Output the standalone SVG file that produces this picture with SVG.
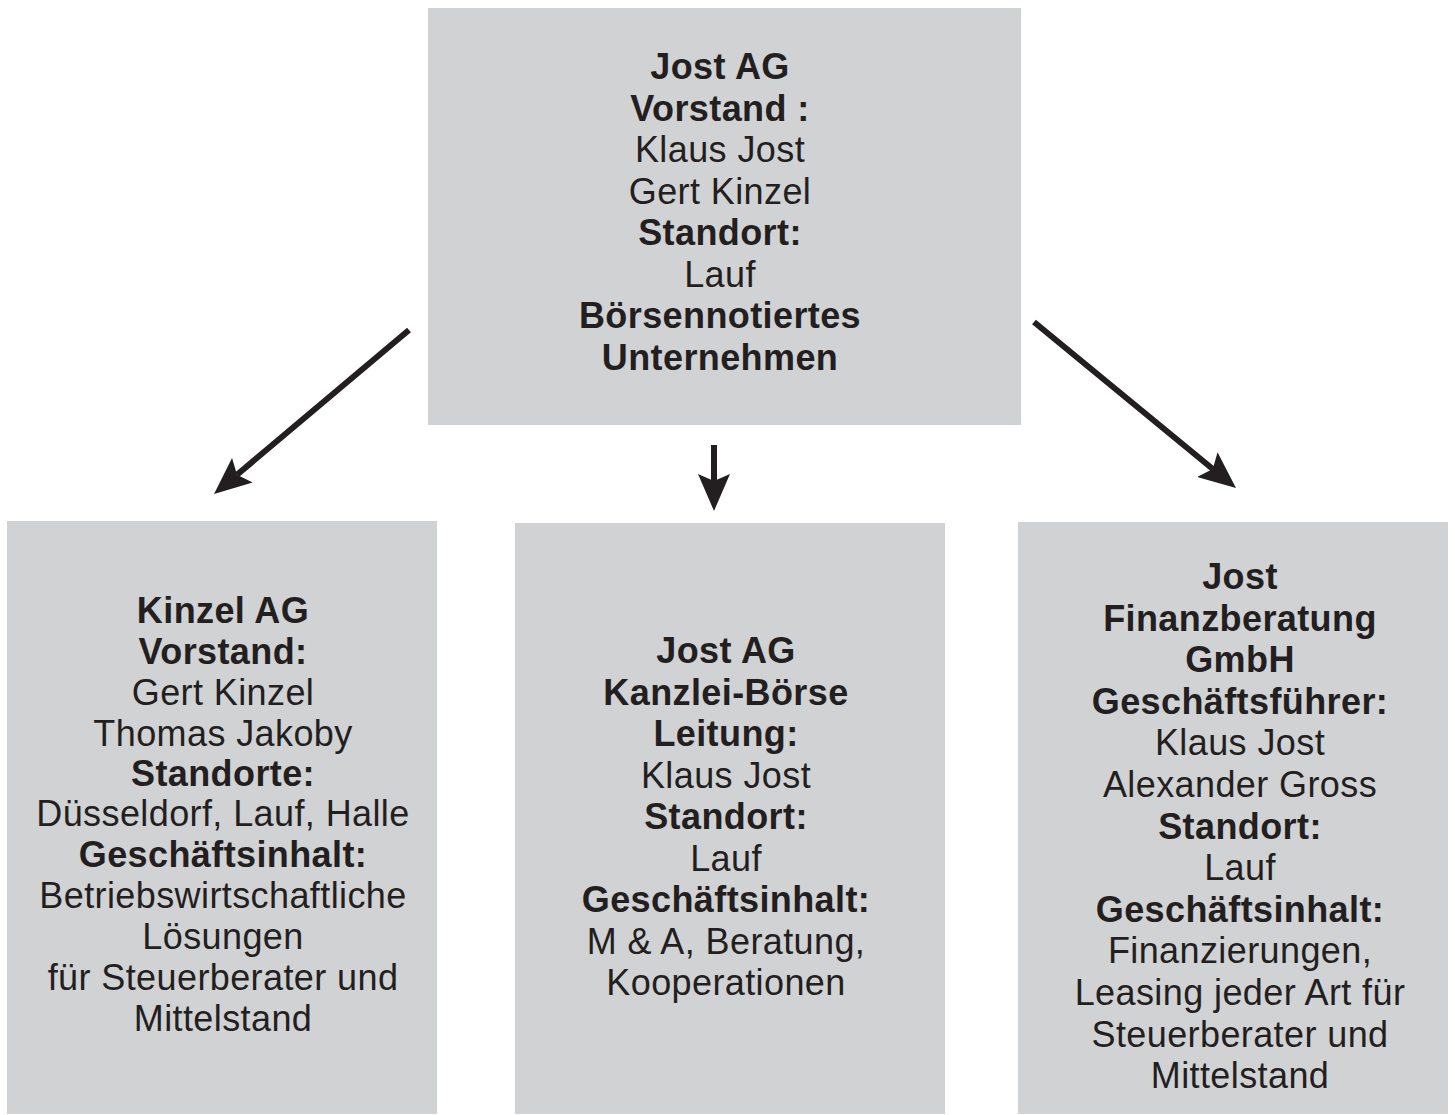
<svg xmlns="http://www.w3.org/2000/svg" width="1455" height="1115" viewBox="0 0 1455 1115">
<defs>
<style>
.box{fill:#d1d2d4}
text{font-family:"Liberation Sans",Arial,sans-serif;font-size:36px;fill:#231f20;text-anchor:middle;letter-spacing:0.4px}
.b{font-weight:bold}
.conn{stroke:#231f20;stroke-width:6;fill:none;marker-end:url(#ah)}
</style>
<marker id="ah" markerUnits="userSpaceOnUse" viewBox="0 0 37 32" markerWidth="37" markerHeight="32" refX="7" refY="16" orient="auto">
<path d="M0,0 L37,16 L0,32 L7,16 Z" fill="#231f20"/>
</marker>
</defs>
<rect width="1455" height="1115" fill="#ffffff"/>
<g id="top">
<rect class="box" x="428" y="8" width="593" height="417"/>
<text x="720" y="79" class="b">Jost AG</text>
<text x="720" y="120.5" class="b">Vorstand :</text>
<text x="720" y="162">Klaus Jost</text>
<text x="720" y="203.5">Gert Kinzel</text>
<text x="720" y="245" class="b">Standort:</text>
<text x="720" y="286.5">Lauf</text>
<text x="720" y="328" class="b">Börsennotiertes</text>
<text x="720" y="369.5" class="b">Unternehmen</text>
</g>
<g id="kinzel">
<rect class="box" x="7" y="521" width="430" height="593"/>
<text x="223" y="623" class="b">Kinzel AG</text>
<text x="223" y="664" class="b">Vorstand:</text>
<text x="223" y="705">Gert Kinzel</text>
<text x="223" y="746">Thomas Jakoby</text>
<text x="223" y="786" class="b">Standorte:</text>
<text x="223" y="826">Düsseldorf, Lauf, Halle</text>
<text x="223" y="867" class="b">Geschäftsinhalt:</text>
<text x="223" y="908">Betriebswirtschaftliche</text>
<text x="223" y="949">Lösungen</text>
<text x="223" y="990">für Steuerberater und</text>
<text x="223" y="1031">Mittelstand</text>
</g>
<g id="kanzlei">
<rect class="box" x="515" y="523" width="430" height="591"/>
<text x="726" y="663" class="b">Jost AG</text>
<text x="726" y="704.5" class="b">Kanzlei-Börse</text>
<text x="726" y="746" class="b">Leitung:</text>
<text x="726" y="787.5">Klaus Jost</text>
<text x="726" y="829" class="b">Standort:</text>
<text x="726" y="870.5">Lauf</text>
<text x="726" y="912" class="b">Geschäftsinhalt:</text>
<text x="726" y="953.5">M &amp; A, Beratung,</text>
<text x="726" y="995">Kooperationen</text>
</g>
<g id="finanz">
<rect class="box" x="1018" y="522" width="430" height="592"/>
<text x="1240" y="589" class="b">Jost</text>
<text x="1240" y="630.6" class="b">Finanzberatung</text>
<text x="1240" y="672" class="b">GmbH</text>
<text x="1240" y="713.8" class="b">Geschäftsführer:</text>
<text x="1240" y="755.4">Klaus Jost</text>
<text x="1240" y="797">Alexander Gross</text>
<text x="1240" y="838.6" class="b">Standort:</text>
<text x="1240" y="880">Lauf</text>
<text x="1240" y="921.8" class="b">Geschäftsinhalt:</text>
<text x="1240" y="963.4">Finanzierungen,</text>
<text x="1240" y="1005">Leasing jeder Art für</text>
<text x="1240" y="1046.6">Steuerberater und</text>
<text x="1240" y="1088">Mittelstand</text>
</g>
<g id="connectors">
<line class="conn" x1="409" y1="330" x2="237" y2="474.7"/>
<line class="conn" x1="714" y1="445" x2="714" y2="481"/>
<line class="conn" x1="1034" y1="322" x2="1212.8" y2="469"/>
</g>
</svg>
